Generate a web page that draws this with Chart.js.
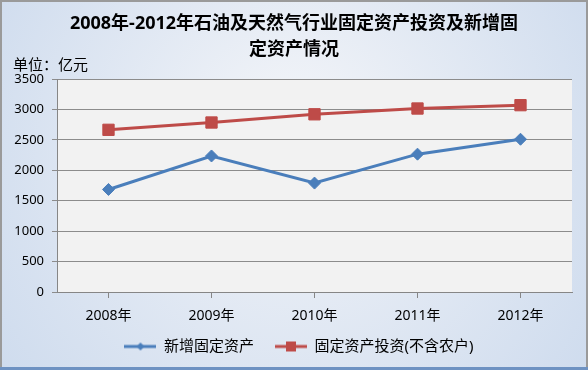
<!DOCTYPE html>
<html>
<head>
<meta charset="utf-8">
<script src="https://cdn.jsdelivr.net/npm/chart.js@4/dist/chart.umd.min.js"></script>
<style>
  html, body { margin: 0; padding: 0; background: #ffffff; }
  canvas { display: block; }
</style>
</head>
<body>
<canvas id="chart" width="588" height="370"></canvas>
<script>
// data
const years = ['2008年', '2009年', '2010年', '2011年', '2012年'];
const newFixedAssets = [1685, 2235, 1790, 2265, 2510];
const fixedAssetInvestment = [2665, 2785, 2920, 3015, 3070];
const yTicks = [0, 500, 1000, 1500, 2000, 2500, 3000, 3500];

const titleLines = ['2008年-2012年石油及天然气行业固定资产投资及新增固', '定资产情况'];
const unitLabel = '单位：亿元';

const BLUE = '#4a7ebb';
const RED = '#be4b48';
const FONT = '"Noto Sans", "Noto Sans CJK SC", sans-serif';

// legend symbol: short line with the marker in the middle
function legendSymbol(color, shape) {
    const c = document.createElement('canvas');
    c.width = 32;
    c.height = 14;
    const g = c.getContext('2d');
    g.strokeStyle = color;
    g.lineWidth = 3;
    g.beginPath();
    g.moveTo(0, 7);
    g.lineTo(32, 7);
    g.stroke();
    g.fillStyle = color;
    g.beginPath();
    if (shape === 'diamond') {
        g.moveTo(16, 3); g.lineTo(20, 7); g.lineTo(16, 11); g.lineTo(12, 7);
    } else {
        g.rect(11, 2, 10, 10);
    }
    g.closePath();
    g.fill();
    return c;
}

// background, frame, plot area fill, title and unit text
const decorations = {
    id: 'decorations',
    afterLayout(chart) {
        // legend sits a little right of centre and slightly higher in the original
        const lg = chart.legend;
        if (lg) {
            lg.left += 13;
            lg.right += 13;
            lg.top -= 6;
            lg.bottom -= 6;
        }
    },
    beforeDraw(chart) {
        const { ctx, width, height, chartArea } = chart;
        ctx.save();
        const bg = ctx.createRadialGradient(width * 0.5, height * 0.35, 20, width * 0.5, height * 0.45, width * 0.6);
        bg.addColorStop(0, '#f2f4f8');
        bg.addColorStop(1, '#cfdcee');
        ctx.fillStyle = bg;
        ctx.fillRect(0, 0, width, height);

        ctx.fillStyle = '#f2f2f2';
        ctx.fillRect(chartArea.left, chartArea.top, chartArea.right - chartArea.left, chartArea.bottom - chartArea.top);

        // frame
        ctx.fillStyle = '#9a9a9a';
        ctx.fillRect(0, 0, width, 2);
        ctx.fillRect(0, 0, 2, height);
        ctx.fillRect(width - 2, 0, 2, height);
        ctx.fillStyle = '#6e92c2';
        ctx.fillRect(0, height - 3, width, 3);

        ctx.fillStyle = '#000000';
        ctx.textAlign = 'center';
        ctx.textBaseline = 'middle';
        ctx.font = 'bold 18px ' + FONT;
        ctx.fillText(titleLines[0], width / 2, 24);
        ctx.fillText(titleLines[1], width / 2, 50);

        ctx.textAlign = 'left';
        ctx.font = '15px ' + FONT;
        ctx.fillText(unitLabel, 13, 66);
        ctx.restore();
    }
};

new Chart(document.getElementById('chart'), {
    type: 'line',
    data: {
        labels: years,
        datasets: [
            {
                label: '新增固定资产',
                data: newFixedAssets,
                borderColor: BLUE,
                backgroundColor: BLUE,
                borderWidth: 3,
                pointStyle: 'rectRot',
                pointRadius: 6,
                pointBorderWidth: 1,
                tension: 0
            },
            {
                label: '固定资产投资(不含农户)',
                data: fixedAssetInvestment,
                borderColor: RED,
                backgroundColor: RED,
                borderWidth: 3,
                pointStyle: 'rect',
                pointRadius: 8,
                pointBorderWidth: 1,
                tension: 0
            }
        ]
    },
    options: {
        responsive: false,
        animation: false,
        devicePixelRatio: 1,
        layout: { padding: { left: 0, right: 16, top: 79, bottom: 0 } },
        plugins: {
            title: { display: false },
            tooltip: { enabled: false },
            legend: {
                position: 'bottom',
                labels: {
                    usePointStyle: true,
                    pointStyleWidth: 32,
                    boxHeight: 14,
                    padding: 21,
                    color: '#000000',
                    font: { family: FONT, size: 15 },
                    generateLabels(chart) {
                        return chart.data.datasets.map((ds, i) => ({
                            text: ds.label,
                            pointStyle: legendSymbol(ds.borderColor, i === 0 ? 'diamond' : 'square'),
                            fillStyle: ds.borderColor,
                            strokeStyle: ds.borderColor,
                            lineWidth: 0,
                            datasetIndex: i
                        }));
                    }
                }
            }
        },
        scales: {
            x: {
                offset: true,
                afterFit(scale) { scale.height = 32; },
                grid: {
                    display: true,
                    drawOnChartArea: false,
                    drawTicks: true,
                    tickLength: 6,
                    color: '#868686'
                },
                border: { display: true, color: '#868686', width: 1 },
                ticks: {
                    color: '#000000',
                    padding: 10,
                    font: { family: FONT, size: 14 }
                }
            },
            y: {
                min: 0,
                max: 3500,
                afterFit(scale) { scale.width = 57; },
                afterBuildTicks(scale) { scale.ticks = yTicks.map(v => ({ value: v })); },
                grid: {
                    color: '#8c8c8c',
                    drawTicks: true,
                    tickLength: 5
                },
                border: { display: true, color: '#868686', width: 1 },
                ticks: {
                    color: '#000000',
                    padding: 8,
                    font: { family: FONT, size: 13 },
                    callback: value => String(value)
                }
            }
        }
    },
    plugins: [decorations]
});
</script>
</body>
</html>
